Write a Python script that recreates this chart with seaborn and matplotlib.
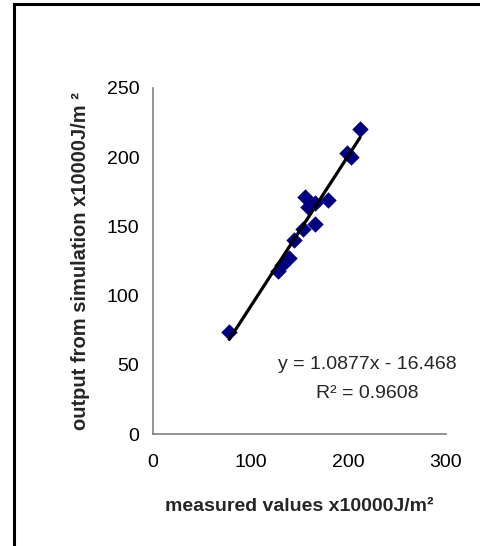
import matplotlib
matplotlib.use("Agg")
import matplotlib.pyplot as plt
import matplotlib.patches as patches
import numpy as np
import pandas as pd
import seaborn as sns

# values
measured = [78, 128, 132, 139, 144, 154, 156, 159, 166, 166, 179, 199, 203, 212]
simulated = [74, 118, 122, 127, 140, 148, 171, 164, 167, 152, 169, 203, 200, 220]
slope, intercept = 1.0877, -16.468
r_squared = 0.9608
x_ticks = [0, 100, 200, 300]
y_ticks = [0, 50, 100, 150, 200, 250]

sns.set_style("white")
plt.rcParams['font.family'] = ['Liberation Sans', 'DejaVu Sans']

df = pd.DataFrame({'measured': measured, 'simulated': simulated})
x_fit = np.array([min(measured), max(measured)])
fit = pd.DataFrame({'x': x_fit, 'y': slope * x_fit + intercept})

fig = plt.figure(figsize=(4.8, 5.46), dpi=100)
ax = fig.add_axes([0.319, 0.205, 0.610, 0.634])

sns.scatterplot(data=df, x='measured', y='simulated', marker='D', s=70,
                color='#000080', edgecolor='#000080', linewidth=0, ax=ax, zorder=2)
sns.lineplot(data=fit, x='x', y='y', color='black', linewidth=2.3, ax=ax, zorder=3)

ax.set_xlim(0, 300)
ax.set_ylim(0, 250)
ax.set_xticks(x_ticks)
ax.set_yticks(y_ticks)
ax.tick_params(axis='both', direction='out', length=5, width=1, color='#808080',
               labelsize=14, labelcolor='black', pad=5)
ax.tick_params(axis='x', pad=9)
sns.despine(ax=ax)
for side in ['left', 'bottom']:
    ax.spines[side].set_color('#808080')
    ax.spines[side].set_linewidth(1.2)

ax.set_xlabel('measured values x10000J/m\u00b2', fontsize=14, fontweight='bold', labelpad=20)
ax.set_ylabel('output from simulation x10000J/m \u00b2', fontsize=14.5, fontweight='bold', labelpad=12)

fig.text(0.765, 0.332, 'y = %.4fx - %.3f' % (slope, -intercept), fontsize=14,
         ha='center', va='center')
fig.text(0.765, 0.280, 'R\u00b2 = %.4f' % r_squared, fontsize=14, ha='center', va='center')

# outer chart frame (cut off at right and bottom)
frame = patches.Rectangle((14 / 480, -0.1), 1.2, 1.1 - 4 / 546,
                          transform=fig.transFigure, fill=False,
                          edgecolor='black', linewidth=2.2, clip_on=False)
fig.add_artist(frame)

fig.savefig('out.png', dpi=100)
